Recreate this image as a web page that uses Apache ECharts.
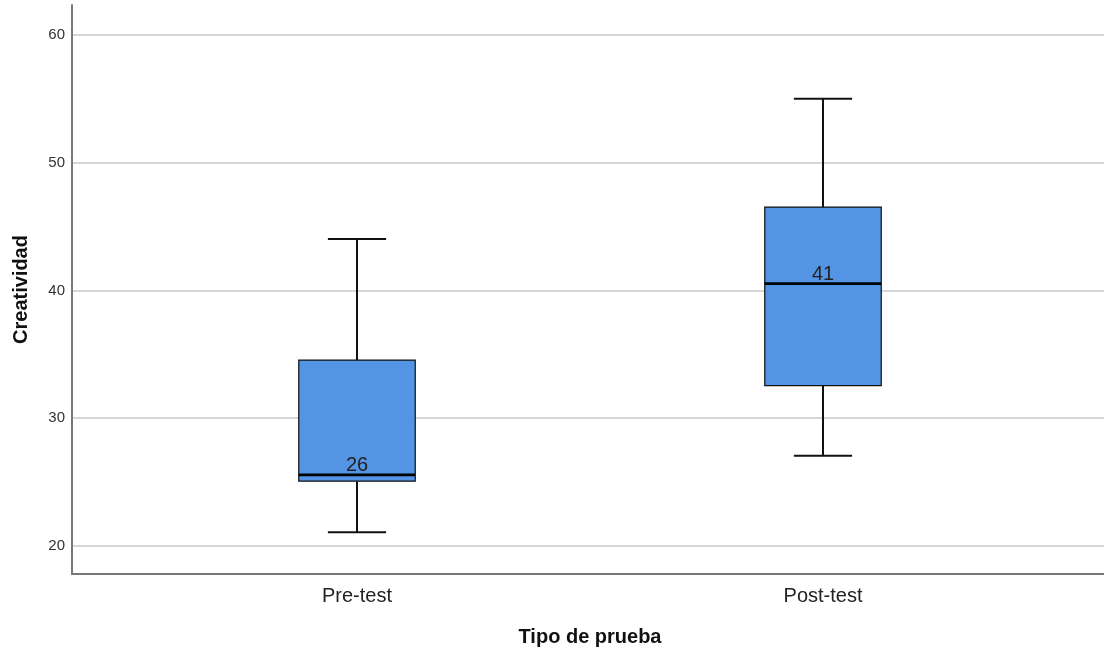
<!DOCTYPE html>
<html>
<head>
<meta charset="utf-8">
<title>Creatividad por tipo de prueba</title>
<script src="https://cdn.jsdelivr.net/npm/echarts@6/dist/echarts.min.js"></script>
<style>
  html, body { margin: 0; padding: 0; background: #ffffff; }
  #chart { width: 1104px; height: 652px; }
</style>
</head>
<body>
<div id="chart"></div>
<script>
// Five-number summaries for each test type
const categories = ['Pre-test', 'Post-test'];
const whiskerLow = [21, 27];
const q1 = [25, 32.5];
const median = [25.5, 40.5];
const q3 = [34.5, 46.5];
const whiskerHigh = [44, 55];
const yTicks = [20, 30, 40, 50, 60];

const FONT = 'Arial, "Liberation Sans", sans-serif';
const BOX_FILL = '#5494e4';

const boxData = categories.map((c, i) => [i, whiskerLow[i], q1[i], median[i], q3[i], whiskerHigh[i]]);

// Box, whiskers, caps, median bar and median label for one category
function renderBox(params, api) {
  const cat = api.value(0);
  const y = v => api.coord([cat, v])[1];
  const cx = api.coord([cat, api.value(3)])[0];
  const band = api.size([1, 0])[0];
  const half = band * 0.125;
  const cap = half * 0.5;
  const yLow = y(api.value(1));
  const yQ1 = y(api.value(2));
  const yMed = y(api.value(3));
  const yQ3 = y(api.value(4));
  const yHigh = y(api.value(5));
  const line = { stroke: '#111', lineWidth: 2 };
  return {
    type: 'group',
    children: [
      { type: 'line', shape: { x1: cx, y1: yHigh, x2: cx, y2: yQ3 }, style: line },
      { type: 'line', shape: { x1: cx, y1: yQ1, x2: cx, y2: yLow }, style: line },
      { type: 'line', shape: { x1: cx - cap, y1: yHigh, x2: cx + cap, y2: yHigh }, style: line },
      { type: 'line', shape: { x1: cx - cap, y1: yLow, x2: cx + cap, y2: yLow }, style: line },
      {
        type: 'rect',
        shape: { x: cx - half, y: yQ3, width: half * 2, height: yQ1 - yQ3 },
        style: { fill: BOX_FILL, stroke: '#111', lineWidth: 1.2 }
      },
      { type: 'line', shape: { x1: cx - half, y1: yMed, x2: cx + half, y2: yMed }, style: { stroke: '#000', lineWidth: 2.6 } },
      {
        type: 'text',
        style: {
          x: cx, y: yMed + 1,
          text: String(Math.round(api.value(3))),
          fill: '#222',
          font: '20px ' + FONT,
          align: 'center',
          verticalAlign: 'bottom'
        }
      }
    ]
  };
}

const yMin = 17.8, yMax = 62.35;

const chart = echarts.init(document.getElementById('chart'), null, { renderer: 'canvas' });
chart.setOption({
  backgroundColor: '#ffffff',
  animation: false,
  grid: [
    { left: 72, right: 0, top: 5, bottom: 78 },
    { left: 124, right: 48, top: 5, bottom: 78 }
  ],
  xAxis: [
    {
      gridIndex: 0, type: 'value', min: 0, max: 1,
      axisLine: { show: true, onZero: false, lineStyle: { color: '#777', width: 2 } },
      axisTick: { show: false }, axisLabel: { show: false }, splitLine: { show: false }
    },
    {
      gridIndex: 1, type: 'category', data: categories,
      axisLine: { show: false }, axisTick: { show: false },
      axisLabel: { fontSize: 20, color: '#222', fontFamily: FONT, margin: 13 },
      name: 'Tipo de prueba', nameLocation: 'middle', nameGap: 54,
      nameTextStyle: { fontSize: 20, fontWeight: 'bold', color: '#111', fontFamily: FONT }
    }
  ],
  yAxis: [
    {
      gridIndex: 0, type: 'value', min: yMin, max: yMax,
      axisLine: { show: true, onZero: false, lineStyle: { color: '#777', width: 2 } },
      axisTick: { show: false, customValues: yTicks },
      axisLabel: { customValues: yTicks, fontSize: 15, color: '#333', fontFamily: FONT, margin: 7 },
      splitLine: { show: true, lineStyle: { color: '#c8c8c8', width: 1.5 } },
      name: 'Creatividad', nameLocation: 'middle', nameGap: 41, nameRotate: 90,
      nameTextStyle: { fontSize: 20, fontWeight: 'bold', color: '#111', fontFamily: FONT }
    },
    {
      gridIndex: 1, type: 'value', min: yMin, max: yMax, show: false,
      splitLine: { show: false }
    }
  ],
  series: [
    {
      type: 'custom',
      xAxisIndex: 1, yAxisIndex: 1,
      renderItem: renderBox,
      encode: { x: 0, y: [1, 2, 3, 4, 5] },
      data: boxData,
      z: 5
    }
  ]
});
</script>
</body>
</html>
